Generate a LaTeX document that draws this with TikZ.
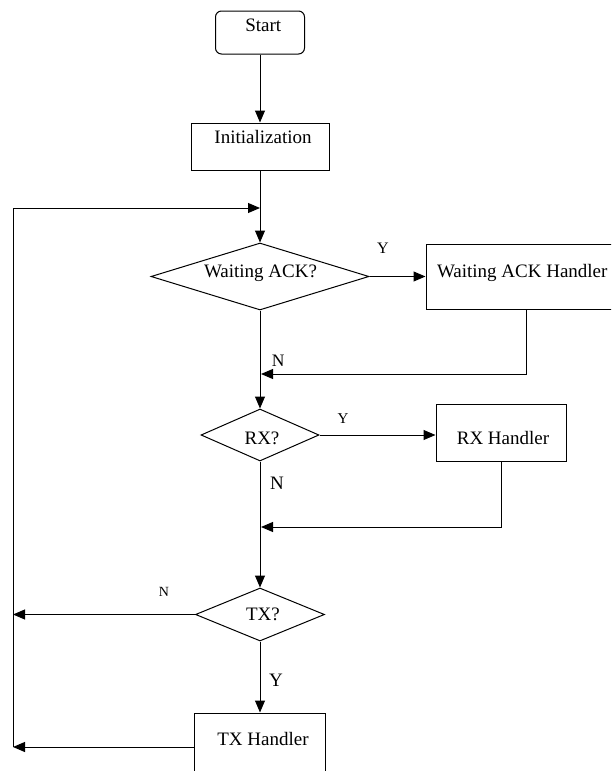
\documentclass[tikz,border=0pt]{standalone}
\usepackage{fontspec}
\setmainfont{Liberation Serif}
\usetikzlibrary{shapes.geometric,arrows.meta}
\newcommand{\ctext}[3]{\raisebox{#2}[0pt][0pt]{\makebox[0pt][c]{\hspace*{#1}#3}}}
\newcommand{\ltext}[3]{\raisebox{#2}[0pt][0pt]{\makebox[0pt][l]{\hspace*{#1}#3}}}
\begin{document}
\begin{tikzpicture}[x=1pt,y=-1pt,
  box/.style={draw, rectangle, inner sep=0pt, line width=1pt, font=\fontsize{19}{22}\selectfont},
  dia/.style={draw, diamond, inner sep=0pt, line width=1pt, font=\fontsize{19}{22}\selectfont},
  arr/.style={-{Triangle[length=12pt,width=10pt]}, line width=1pt},
  lab/.style={anchor=base, inner sep=0pt}]
\useasboundingbox (0,0) rectangle (611,771);
\clip (0,0) rectangle (611,771);
\node[box, rounded corners=6pt, minimum width=89pt, minimum height=43pt] (start) at (260,32.5) {\ctext{6.6pt}{0.8pt}{Start}};
\node[box, minimum width=138pt, minimum height=47pt] (init) at (260,146.5) {\ctext{6pt}{3.2pt}{Initialization}};
\node[dia, minimum width=218pt, minimum height=67pt] (wa) at (260,276.5) {\ctext{1pt}{-0.8pt}{Waiting ACK?}};
\node[box, minimum width=200pt, minimum height=65pt] (wah) at (526,276.5) {\ltext{-89pt}{-0.8pt}{Waiting ACK Handler}};
\node[dia, minimum width=118pt, minimum height=52pt] (rx) at (260,435) {\ctext{4pt}{-9pt}{RX?}};
\node[box, minimum width=130pt, minimum height=57pt] (rxh) at (501,432.5) {\ctext{4pt}{-11.5pt}{RX Handler}};
\node[dia, minimum width=129pt, minimum height=53pt] (tx) at (260,614.5) {\ctext{6pt}{-5.5pt}{TX?}};
\node[box, minimum width=131pt, minimum height=68pt] (txh) at (260,747) {\ctext{6pt}{2pt}{TX Handler}};
\node[lab, font=\fontsize{16}{18}\selectfont] (ywa) at (383,253.3) {Y};
\node[lab, font=\fontsize{17.5}{20}\selectfont] (nwa) at (278.3,366.7) {N};
\node[lab, font=\fontsize{15}{18}\selectfont] (yrx) at (343,423.3) {Y};
\node[lab, font=\fontsize{19}{22}\selectfont] (nrx) at (277,489.3) {N};
\node[lab, font=\fontsize{14}{17}\selectfont] (ntx) at (164,596.7) {N};
\node[lab, font=\fontsize{19}{22}\selectfont] (ytx) at (276,686.7) {Y};
\coordinate (j0) at (260,208);
\coordinate (lt) at (13,208);
\coordinate (l1) at (13,614.5);
\coordinate (l2) at (13,747);
\coordinate (j1) at (261,374);
\coordinate (j2) at (261,527);
\draw[arr] (start.south) -- (init.north);
\draw[arr] (init.south) -- (wa.north);
\draw[arr] (wa.east) -- (wah.west);
\draw[arr] (wah.south) |- (j1);
\draw[arr] (wa.south) -- (rx.north);
\draw[arr] (rx.east) -- (rx.east -| rxh.west);
\draw[arr] (rxh.south) |- (j2);
\draw[arr] (rx.south) -- (tx.north);
\draw[arr] (tx.west) -- (l1);
\draw[arr] (tx.south) -- (txh.north);
\draw[arr] (txh.west) -- (l2);
\draw[arr] (l2) -- (lt) -- (j0);
\end{tikzpicture}
\end{document}
